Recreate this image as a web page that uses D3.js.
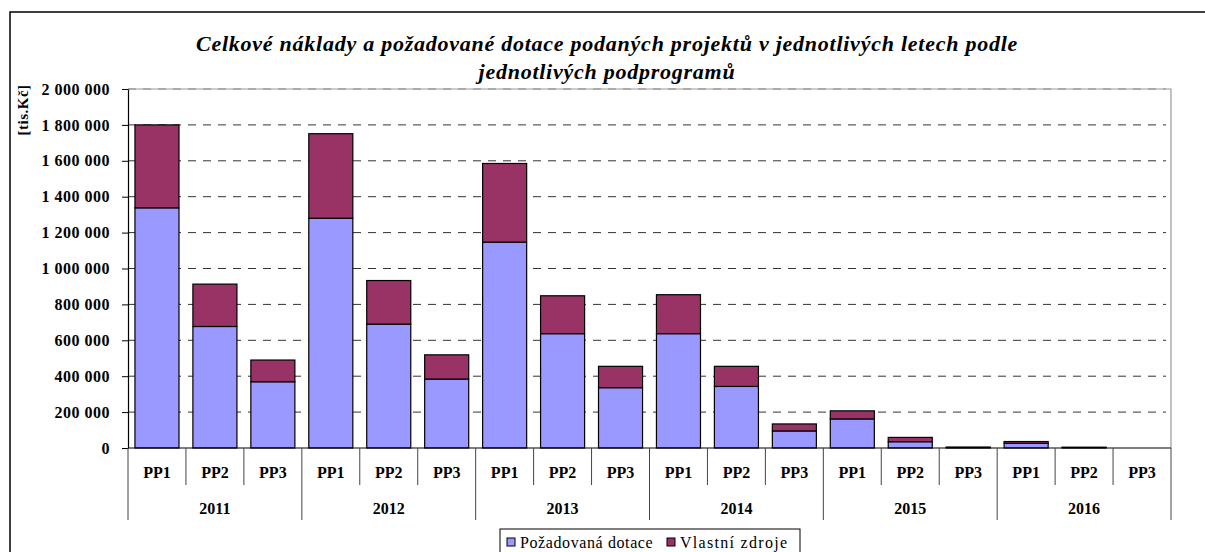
<!DOCTYPE html>
<html>
<head>
<meta charset="utf-8">
<script src="https://cdn.jsdelivr.net/npm/d3@7"></script>
<style>
  body { margin: 0; background: #fff; }
</style>
</head>
<body>
<script>
const YEARS = ["2011", "2012", "2013", "2014", "2015", "2016"];
const PROGRAMS = ["PP1", "PP2", "PP3"];
const SERIES = ["Požadovaná dotace", "Vlastní zdroje"];
// [tis.Kč], po letech PP1..PP3
const DOTACE = [1338000, 677000, 369000, 1280000, 690000, 384000, 1147000, 637000, 336000,
  637000, 343000, 95000, 162000, 35000, 3000, 26000, 3000, 0];
const VLASTNI = [462000, 236000, 121000, 471000, 243000, 135000, 438000, 211000, 119000,
  217000, 112000, 39000, 45000, 24000, 2000, 10000, 1000, 0];
const Y_TICKS = [0, 200000, 400000, 600000, 800000, 1000000, 1200000, 1400000, 1600000, 1800000, 2000000];

const FONT = "'Liberation Serif', 'Times New Roman', 'Liberation Sans', sans-serif";
const width = 1205, height = 552;
const margin = { left: 128, right: 1171, top: 89, bottom: 448 };
const colors = ["#9999ff", "#993366"];

const rows = [];
YEARS.forEach((y, i) => PROGRAMS.forEach((p, j) => {
  const k = i * 3 + j;
  rows.push({ key: y + "-" + p, year: y, pp: p, dotace: DOTACE[k], vlastni: VLASTNI[k] });
}));

const svg = d3.select("body").append("svg")
  .attr("width", width)
  .attr("height", height)
  .style("font-family", FONT);

// chart border
svg.append("rect")
  .attr("x", 10).attr("y", 12)
  .attr("width", 1220).attr("height", 560)
  .attr("fill", "none").attr("stroke", "#000").attr("stroke-width", 1.5);

const TITLE = ["Celkové náklady a požadované dotace podaných projektů v jednotlivých letech podle",
  "jednotlivých podprogramů"];
svg.selectAll("text.title")
  .data(TITLE)
  .join("text")
  .attr("class", "title")
  .attr("x", 607).attr("y", (d, i) => 51 + i * 28)
  .attr("text-anchor", "middle")
  .attr("font-size", 22).attr("font-weight", "bold").attr("font-style", "italic")
  .attr("letter-spacing", 0.75)
  .text(d => d);

const x = d3.scaleBand()
  .domain(rows.map(d => d.key))
  .range([margin.left, margin.right])
  .paddingInner(0.24)
  .paddingOuter(0.12);

const y = d3.scaleLinear()
  .domain([0, 2000000])
  .range([margin.bottom, margin.top]);

// plot area border (top + right)
svg.append("path")
  .attr("d", `M${margin.left},${margin.top}H${margin.right}V${margin.bottom}`)
  .attr("fill", "none").attr("stroke", "#999").attr("stroke-width", 1.2);

// gridlines
svg.append("g")
  .selectAll("line")
  .data(Y_TICKS.filter(t => t > 0))
  .join("line")
  .attr("x1", margin.left).attr("x2", margin.right - 5)
  .attr("y1", d => y(d)).attr("y2", d => y(d))
  .attr("stroke", d => d === 2000000 ? "#888" : "#333")
  .attr("stroke-width", 1)
  .attr("stroke-dasharray", "8,7");

// bars
const stack = d3.stack().keys(["dotace", "vlastni"])(rows);
svg.append("g")
  .selectAll("g")
  .data(stack)
  .join("g")
  .attr("fill", (d, i) => colors[i])
  .selectAll("rect")
  .data(d => d.filter(s => s[1] - s[0] > 0))
  .join("rect")
  .attr("x", d => x(d.data.key))
  .attr("y", d => y(d[1]))
  .attr("width", x.bandwidth())
  .attr("height", d => y(d[0]) - y(d[1]))
  .attr("stroke", "#000")
  .attr("stroke-width", 1.2);

// y axis
const yAxis = d3.axisLeft(y)
  .tickValues(Y_TICKS)
  .tickSize(6)
  .tickSizeOuter(0)
  .tickFormat(d => d3.format(",")(d).replace(/,/g, " "));
const ya = svg.append("g")
  .attr("transform", `translate(${margin.left},0)`)
  .call(yAxis)
  .attr("font-family", null);
ya.select(".domain").attr("stroke", "#000").attr("stroke-width", 1.2);
ya.selectAll(".tick line").attr("stroke", "#000");
ya.selectAll(".tick text")
  .attr("x", -18)
  .style("font-family", FONT)
  .attr("font-size", 16)
  .attr("letter-spacing", 0.5)
  .attr("font-weight", "bold")
  .attr("fill", "#000");

svg.append("text")
  .attr("transform", "translate(28,110) rotate(-90)")
  .attr("text-anchor", "middle")
  .attr("font-size", 15).attr("font-weight", "bold")
  .attr("letter-spacing", 0.5)
  .text("[tis.Kč]");

// x axis: baseline, separators, labels
const step = x.step();
const left = d => x(d) - x.paddingInner() * step / 2;
svg.append("line")
  .attr("x1", margin.left).attr("x2", margin.right)
  .attr("y1", margin.bottom).attr("y2", margin.bottom)
  .attr("stroke", "#000").attr("stroke-width", 1.2);

const xg = svg.append("g");
xg.selectAll("line.pp")
  .data(rows)
  .join("line")
  .attr("class", "pp")
  .attr("x1", d => left(d.key)).attr("x2", d => left(d.key))
  .attr("y1", margin.bottom)
  .attr("y2", d => d.pp === "PP1" ? 520 : 485)
  .attr("stroke", "#444").attr("stroke-width", 1);
xg.append("line")
  .attr("x1", margin.right).attr("x2", margin.right)
  .attr("y1", margin.bottom).attr("y2", 520)
  .attr("stroke", "#444").attr("stroke-width", 1);
xg.selectAll("text.pp")
  .data(rows)
  .join("text")
  .attr("class", "pp")
  .attr("x", d => x(d.key) + x.bandwidth() / 2)
  .attr("y", 478)
  .attr("text-anchor", "middle")
  .attr("font-size", 16).attr("font-weight", "bold")
  .text(d => d.pp);
xg.selectAll("text.yr")
  .data(YEARS)
  .join("text")
  .attr("class", "yr")
  .attr("x", yr => (left(yr + "-PP1") + left(yr + "-PP3") + step) / 2)
  .attr("y", 514)
  .attr("text-anchor", "middle")
  .attr("font-size", 16).attr("font-weight", "bold")
  .text(d => d);

// legend
const lg = svg.append("g");
lg.append("rect")
  .attr("x", 500).attr("y", 529).attr("width", 300).attr("height", 30)
  .attr("fill", "#fff").attr("stroke", "#000").attr("stroke-width", 1);
const lx = [507, 667];
const ls = [0.6, 1.3];
SERIES.forEach((s, i) => {
  lg.append("rect")
    .attr("x", lx[i]).attr("y", 538).attr("width", 8).attr("height", 8)
    .attr("fill", colors[i]).attr("stroke", "#000");
  lg.append("text")
    .attr("x", lx[i] + 13).attr("y", 547.5)
    .attr("font-size", 16)
    .attr("letter-spacing", ls[i])
    .text(s);
});
</script>
</body>
</html>
